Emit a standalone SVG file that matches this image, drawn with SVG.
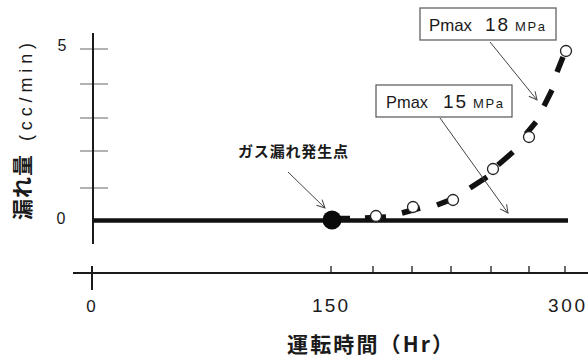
<svg xmlns="http://www.w3.org/2000/svg" width="588" height="361" viewBox="0 0 588 361">
<style>
.lat{font-family:"Liberation Sans",Arial,sans-serif;fill:#1a1a1a}
.jp{font-family:"Noto Sans CJK JP",sans-serif;font-weight:bold;fill:#1a1a1a}
.tick{stroke:#888;stroke-width:1.3}
.ax{stroke:#1a1a1a;stroke-width:2;fill:none}
.lead{stroke:#444;stroke-width:1;fill:none}
.dash{stroke:#111;stroke-width:5.5;stroke-linecap:butt}
.pt{fill:#fff;stroke:#222;stroke-width:1.3}
.box{fill:#fff;stroke:#555;stroke-width:1.2}
</style>
<defs>
<marker id="ah" markerWidth="10" markerHeight="10" refX="9" refY="5" orient="auto" markerUnits="userSpaceOnUse">
<path d="M1,1 L9,5 L1,9" fill="none" stroke="#444" stroke-width="1"/>
</marker>
</defs>
<rect width="588" height="361" fill="#fff"/>
<g id="axes">
<line class="tick" x1="80" y1="49" x2="108" y2="49"/>
<line class="tick" x1="80" y1="84" x2="108" y2="84"/>
<line class="tick" x1="80" y1="118" x2="108" y2="118"/>
<line class="tick" x1="80" y1="151" x2="108" y2="151"/>
<line class="tick" x1="80" y1="188" x2="108" y2="188"/>
<line class="ax" x1="93" y1="33" x2="93" y2="244"/>
<line class="ax" x1="73" y1="273" x2="588" y2="273"/>
<line class="ax" x1="92" y1="266" x2="92" y2="290"/>
<g stroke="#1a1a1a" stroke-width="1.3">
<line x1="331" y1="266" x2="331" y2="273"/>
<line x1="373" y1="266" x2="373" y2="273"/>
<line x1="412" y1="266" x2="412" y2="273"/>
<line x1="451" y1="266" x2="451" y2="273"/>
<line x1="491" y1="266" x2="491" y2="273"/>
<line x1="529" y1="266" x2="529" y2="273"/>
<line x1="565" y1="266" x2="565" y2="273"/>
</g>
<text class="lat" x="62" y="51" font-size="16" text-anchor="middle">5</text>
<text class="lat" x="61" y="224" font-size="16" text-anchor="middle">0</text>
<text class="lat" x="91" y="312" font-size="17" text-anchor="middle">0</text>
<text class="lat" x="312" y="312" font-size="19" textLength="36" lengthAdjust="spacing">150</text>
<text class="lat" x="548" y="312" font-size="19" textLength="37" lengthAdjust="spacing">300</text>
<text class="jp" transform="rotate(-90)" x="-220" y="30" font-size="21" textLength="65" lengthAdjust="spacing">漏れ量</text>
<text class="lat" transform="rotate(-90)" x="-141" y="32" font-size="18" textLength="98" lengthAdjust="spacing">(cc/min)</text>
<text class="jp" x="287" y="352" font-size="21" textLength="166" lengthAdjust="spacing">運転時間（Hr）</text>
</g>
<g id="series-15">
<line x1="93" y1="220.5" x2="568" y2="220.5" stroke="#111" stroke-width="4.5"/>
</g>
<g id="series-18">
<line class="dash" x1="338" y1="218.5" x2="350" y2="218.5"/>
<line class="dash" x1="365" y1="218" x2="386" y2="217"/>
<line class="dash" x1="402" y1="213" x2="420" y2="208"/>
<line class="dash" x1="437" y1="205" x2="450" y2="200"/>
<line class="dash" x1="470" y1="188" x2="487" y2="177"/>
<line class="dash" x1="498" y1="165" x2="513" y2="152"/>
<line class="dash" x1="526" y1="134" x2="536" y2="122"/>
<line class="dash" x1="544" y1="106" x2="552" y2="90"/>
<line class="dash" x1="557" y1="72" x2="563" y2="57"/>
<circle class="pt" cx="376" cy="216" r="5.5"/>
<circle class="pt" cx="413" cy="207" r="5.5"/>
<circle class="pt" cx="453" cy="200" r="5.5"/>
<circle class="pt" cx="493" cy="169" r="5.5"/>
<circle class="pt" cx="529" cy="137" r="5.5"/>
<circle class="pt" cx="566" cy="51" r="5.5"/>
</g>
<g id="leak-point">
<circle cx="332" cy="220" r="9.5" fill="#0a0a0a"/>
<text class="jp" x="238" y="157" font-size="15" textLength="110" lengthAdjust="spacing">ガス漏れ発生点</text>
</g>
<g id="label-18">
<rect class="box" x="420" y="8" width="136" height="32"/>
<text class="lat" x="429" y="31" font-size="17" textLength="43" lengthAdjust="spacingAndGlyphs">Pmax</text>
<text class="lat" x="485" y="31" font-size="19" textLength="23" lengthAdjust="spacing">18</text>
<text class="lat" x="515" y="31" font-size="13" textLength="30" lengthAdjust="spacing">MPa</text>
</g>
<g id="label-15">
<rect class="box" x="376" y="85" width="136" height="32"/>
<text class="lat" x="386" y="108" font-size="17" textLength="42" lengthAdjust="spacingAndGlyphs">Pmax</text>
<text class="lat" x="443" y="108" font-size="19" textLength="23" lengthAdjust="spacing">15</text>
<text class="lat" x="473" y="108" font-size="13" textLength="30" lengthAdjust="spacing">MPa</text>
</g>
<g id="connectors">
<line class="lead" x1="288" y1="172" x2="325" y2="208" marker-end="url(#ah)"/>
<line class="lead" x1="440" y1="118" x2="508" y2="213" marker-end="url(#ah)"/>
<line class="lead" x1="490" y1="42" x2="537" y2="100" marker-end="url(#ah)"/>
</g>
</svg>
